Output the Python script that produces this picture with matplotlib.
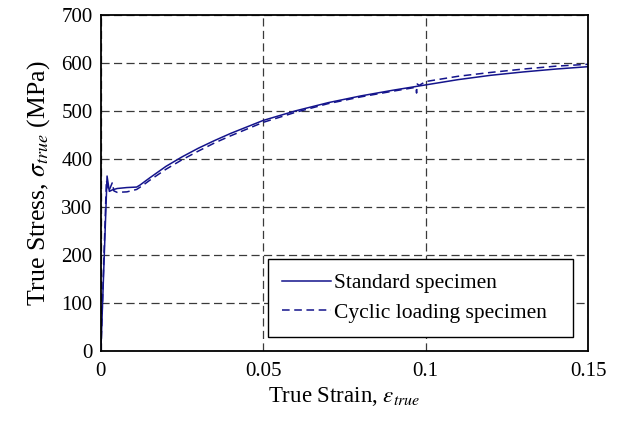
import matplotlib
matplotlib.use("Agg")
import matplotlib.pyplot as plt

plt.rcParams["font.family"] = ["Liberation Serif", "DejaVu Serif"]
plt.rcParams["mathtext.fontset"] = "stix"

# standard specimen
std_strain = [0, 0.0019, 0.0026, 0.0035, 0.005, 0.008, 0.011, 0.012, 0.015, 0.02,
              0.025, 0.03, 0.035, 0.04, 0.05, 0.06, 0.07, 0.08, 0.09, 0.1,
              0.11, 0.12, 0.13, 0.14, 0.15]
std_stress = [0, 364, 332, 335, 338, 340, 341, 345, 360, 384,
              404, 422, 438, 453, 480, 500, 517, 531, 543, 554,
              565, 574, 581, 587, 592]

# cyclic loading specimen
cyc_strain = [0, 0.0017, 0.0024, 0.0035, 0.004, 0.005, 0.008, 0.011, 0.013, 0.015,
              0.02, 0.025, 0.03, 0.035, 0.04, 0.05, 0.06, 0.07, 0.08, 0.09,
              0.097, 0.0972, 0.0974, 0.098, 0.1, 0.11, 0.12, 0.13, 0.14, 0.15]
cyc_stress = [0, 355, 332, 350, 333, 330, 331, 336, 345, 355,
              378, 398, 416, 433, 448, 476, 497, 515, 529, 541,
              549, 537, 556, 553, 561, 572, 580, 587, 593, 597]

line_col = "#14148c"

fig = plt.figure(figsize=(6.19, 4.25), dpi=100)
ax = fig.add_axes([0.163, 0.175, 0.787, 0.79])

ax.plot(std_strain, std_stress, color=line_col, lw=1.1, label="Standard specimen")
ax.plot(cyc_strain, cyc_stress, color=line_col, lw=1.1, ls=(0, (5, 3)),
        label="Cyclic loading specimen")

ax.set_xlim(0, 0.15)
ax.set_ylim(0, 700)
ax.set_xticks([0, 0.05, 0.1, 0.15])
ax.set_xticklabels(["0", "0.05", "0.1", "0.15"])
ax.set_yticks(range(0, 701, 100))
ax.grid(True, color="#3a3a3a", ls=(0, (6.5, 3.5)), lw=0.9)
ax.set_axisbelow(True)
ax.tick_params(length=0, labelsize=15)
ax.tick_params(axis="x", pad=8)
ax.tick_params(axis="y", pad=6)
for s in ax.spines.values():
    s.set_linewidth(1.3)

ax.set_xlabel(r"True Strain, $\varepsilon_{true}$", fontsize=16.5, labelpad=3)
ax.set_ylabel(r"True Stress, $\sigma_{true}$ (MPa)", fontsize=18.5, labelpad=7)

leg = ax.legend(loc="lower left", bbox_to_anchor=(0.343, 0.041, 0.626, 0.232),
                mode="expand", borderaxespad=0, fontsize=15.5, fancybox=False,
                framealpha=1, edgecolor="black", handlelength=2.3,
                handletextpad=0.1, borderpad=0.65, labelspacing=0.45)
leg.get_frame().set_linewidth(1.0)

fig.savefig("out.png", dpi=100)
